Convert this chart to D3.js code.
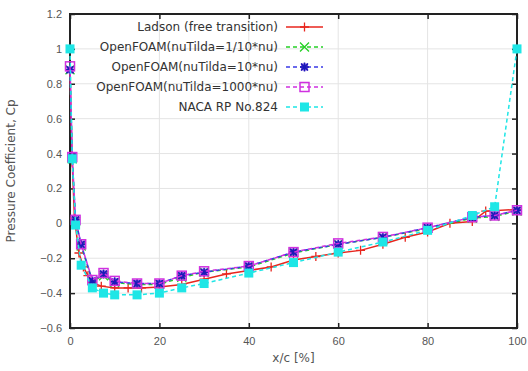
<!DOCTYPE html>
<html>
<head>
<meta charset="utf-8">
<script src="https://cdn.jsdelivr.net/npm/d3@7"></script>
<style>
body { margin:0; background:#fff; }
svg { font-family: "DejaVu Sans", Verdana, sans-serif; }
</style>
</head>
<body>
<svg width="528" height="371"></svg>
<script>
// chart values
var xTicks=[0,20,40,60,80,100];
var yTicks=[-0.6,-0.4,-0.2,0,0.2,0.4,0.6,0.8,1,1.2];

var ladsonX=[0,0.5,1,2,3,4,5,7,10,13,16,20,25,30,35,40,45,50,55,60,65,70,75,80,85,90,93,100];
var ladsonCp=[0.88,0.35,0.03,-0.17,-0.25,-0.3,-0.34,-0.36,-0.37,-0.37,-0.37,-0.365,-0.35,-0.32,-0.29,-0.27,-0.25,-0.21,-0.19,-0.17,-0.155,-0.12,-0.08,-0.05,0.0,0.01,0.07,0.08];

var foamX=[0,0.5,1.25,2.5,5,7.5,10,15,20,25,30,40,50,60,70,80,90,95,100];
var foamLowCp=[0.88,0.37,0.01,-0.13,-0.33,-0.3,-0.34,-0.35,-0.35,-0.31,-0.28,-0.25,-0.17,-0.12,-0.08,-0.03,0.03,0.04,0.07];
var foamMidCp=[0.88,0.38,0.02,-0.12,-0.33,-0.29,-0.335,-0.345,-0.345,-0.3,-0.28,-0.245,-0.165,-0.12,-0.08,-0.025,0.035,0.045,0.075];
var foamHighCp=[0.9,0.38,0.02,-0.12,-0.325,-0.285,-0.33,-0.345,-0.345,-0.3,-0.275,-0.245,-0.165,-0.115,-0.078,-0.025,0.035,0.045,0.075];

var nacaX=[0,0.5,1.25,2.5,5,7.5,10,15,20,25,30,40,50,60,70,80,90,95,100];
var nacaCp=[1.0,0.37,-0.01,-0.24,-0.37,-0.4,-0.41,-0.41,-0.4,-0.37,-0.345,-0.285,-0.225,-0.165,-0.107,-0.04,0.045,0.095,1.0];

var seriesNames=["Ladson (free transition)","OpenFOAM(nuTilda=1/10*nu)","OpenFOAM(nuTilda=10*nu)","OpenFOAM(nuTilda=1000*nu)","NACA RP No.824"];

var series=[
    {name:seriesNames[0],x:ladsonX,y:ladsonCp,color:"#e8261e",dash:null,mark:"plus"},
    {name:seriesNames[1],x:foamX,y:foamLowCp,color:"#26d126",dash:"4,3",mark:"cross"},
    {name:seriesNames[2],x:foamX,y:foamMidCp,color:"#3a3ae6",dash:"4,3",mark:"star"},
    {name:seriesNames[3],x:foamX,y:foamHighCp,color:"#d030e0",dash:"4,3",mark:"open"},
    {name:seriesNames[4],x:nacaX,y:nacaCp,color:"#1ee6e6",dash:"4,3",mark:"filled"}
];

var margin={left:70,top:14,right:11,bottom:43};
var width=528-margin.left-margin.right;
var height=371-margin.top-margin.bottom;

var svg=d3.select("svg");
var g=svg.append("g").attr("transform","translate("+margin.left+","+margin.top+")");

var x=d3.scaleLinear().domain([0,100]).range([0,width]);
var y=d3.scaleLinear().domain([-0.6,1.2]).range([height,0]);

//grid
g.append("g").selectAll("line").data(xTicks.slice(1,-1)).enter().append("line")
    .attr("x1",function(d){return x(d);}).attr("x2",function(d){return x(d);})
    .attr("y1",0).attr("y2",height)
    .attr("stroke","#e4e4e4").attr("stroke-width",1);
g.append("g").selectAll("line").data(yTicks.slice(1,-1)).enter().append("line")
    .attr("y1",function(d){return y(d);}).attr("y2",function(d){return y(d);})
    .attr("x1",0).attr("x2",width)
    .attr("stroke","#e4e4e4").attr("stroke-width",1);

//axes with inward ticks
function fmt(d){return d3.format("~g")(+d.toFixed(1));}
var axB=g.append("g").attr("transform","translate(0,"+height+")")
    .call(d3.axisBottom(x).tickValues(xTicks).tickSize(-5).tickPadding(9).tickFormat(fmt));
var axT=g.append("g").call(d3.axisTop(x).tickValues(xTicks).tickSize(-5).tickFormat(""));
var axL=g.append("g").call(d3.axisLeft(y).tickValues(yTicks).tickSize(-5).tickPadding(8).tickFormat(fmt));
var axR=g.append("g").attr("transform","translate("+width+",0)")
    .call(d3.axisRight(y).tickValues(yTicks).tickSize(-5).tickFormat(""));
[axB,axT,axL,axR].forEach(function(a){
    a.select(".domain").remove();
    a.selectAll(".tick line").attr("stroke","#222").attr("stroke-width",1.5);
    a.selectAll("text").attr("fill","#555").style("font-size","11px");
});

//frame
g.append("rect").attr("width",width).attr("height",height)
    .attr("fill","none").attr("stroke","#222").attr("stroke-width",2);

//markers
function drawMark(sel,type,color){
    var s=4.5;
    if(type=="plus"){
        sel.append("path").attr("d","M"+(-s)+",0H"+s+"M0,"+(-s)+"V"+s)
            .attr("stroke",color).attr("stroke-width",1.3).attr("fill","none");
    } else if(type=="cross"){
        sel.append("path").attr("d","M"+(-s)+","+(-s)+"L"+s+","+s+"M"+(-s)+","+s+"L"+s+","+(-s))
            .attr("stroke",color).attr("stroke-width",1.3).attr("fill","none");
    } else if(type=="star"){
        sel.append("rect").attr("x",-3.5).attr("y",-3.5).attr("width",7).attr("height",7)
            .attr("fill","#6a2ad8").attr("opacity",0.8);
        sel.append("path").attr("d","M"+(-s)+",0H"+s+"M0,"+(-s)+"V"+s+"M-3.5,-3.5L3.5,3.5M-3.5,3.5L3.5,-3.5")
            .attr("stroke","#1a1ab8").attr("stroke-width",1.5).attr("fill","none");
    } else if(type=="open"){
        sel.append("rect").attr("x",-4.5).attr("y",-4.5).attr("width",9).attr("height",9)
            .attr("fill","none").attr("stroke",color).attr("stroke-width",1.5);
    } else {
        sel.append("rect").attr("x",-4.5).attr("y",-4.5).attr("width",9).attr("height",9)
            .attr("fill",color);
    }
}

var line=d3.line().x(function(d){return x(d[0]);}).y(function(d){return y(d[1]);});

series.forEach(function(s){
    var pts=s.x.map(function(v,i){return [v,s.y[i]];});
    var sg=g.append("g");
    sg.append("path").datum(pts).attr("d",line)
        .attr("fill","none").attr("stroke",s.color).attr("stroke-width",1.5)
        .attr("stroke-dasharray",s.dash);
    sg.selectAll("g.mk").data(pts).enter().append("g").attr("class","mk")
        .attr("transform",function(d){return "translate("+x(d[0])+","+y(d[1])+")";})
        .each(function(){drawMark(d3.select(this),s.mark,s.color);});
});

//legend
var leg=svg.append("g");
series.forEach(function(s,i){
    var ly=27+20*i;
    leg.append("text").attr("x",278).attr("y",ly).attr("dy","0.35em")
        .attr("text-anchor","end").style("font-size","12px").attr("fill","#333")
        .text(s.name);
    leg.append("line").attr("x1",286).attr("x2",323).attr("y1",ly).attr("y2",ly)
        .attr("stroke",s.color).attr("stroke-width",1.5).attr("stroke-dasharray",s.dash);
    drawMark(leg.append("g").attr("transform","translate(304.5,"+ly+")"),s.mark,s.color);
});

//axis titles
svg.append("text").attr("x",margin.left+width/2).attr("y",362)
    .attr("text-anchor","middle").style("font-size","12px").attr("fill","#555").text("x/c [%]");
svg.append("text").attr("transform","translate(15,"+(margin.top+height/2)+") rotate(-90)")
    .attr("text-anchor","middle").style("font-size","12px").attr("fill","#555")
    .text("Pressure Coefficient, Cp");
</script>
</body>
</html>
